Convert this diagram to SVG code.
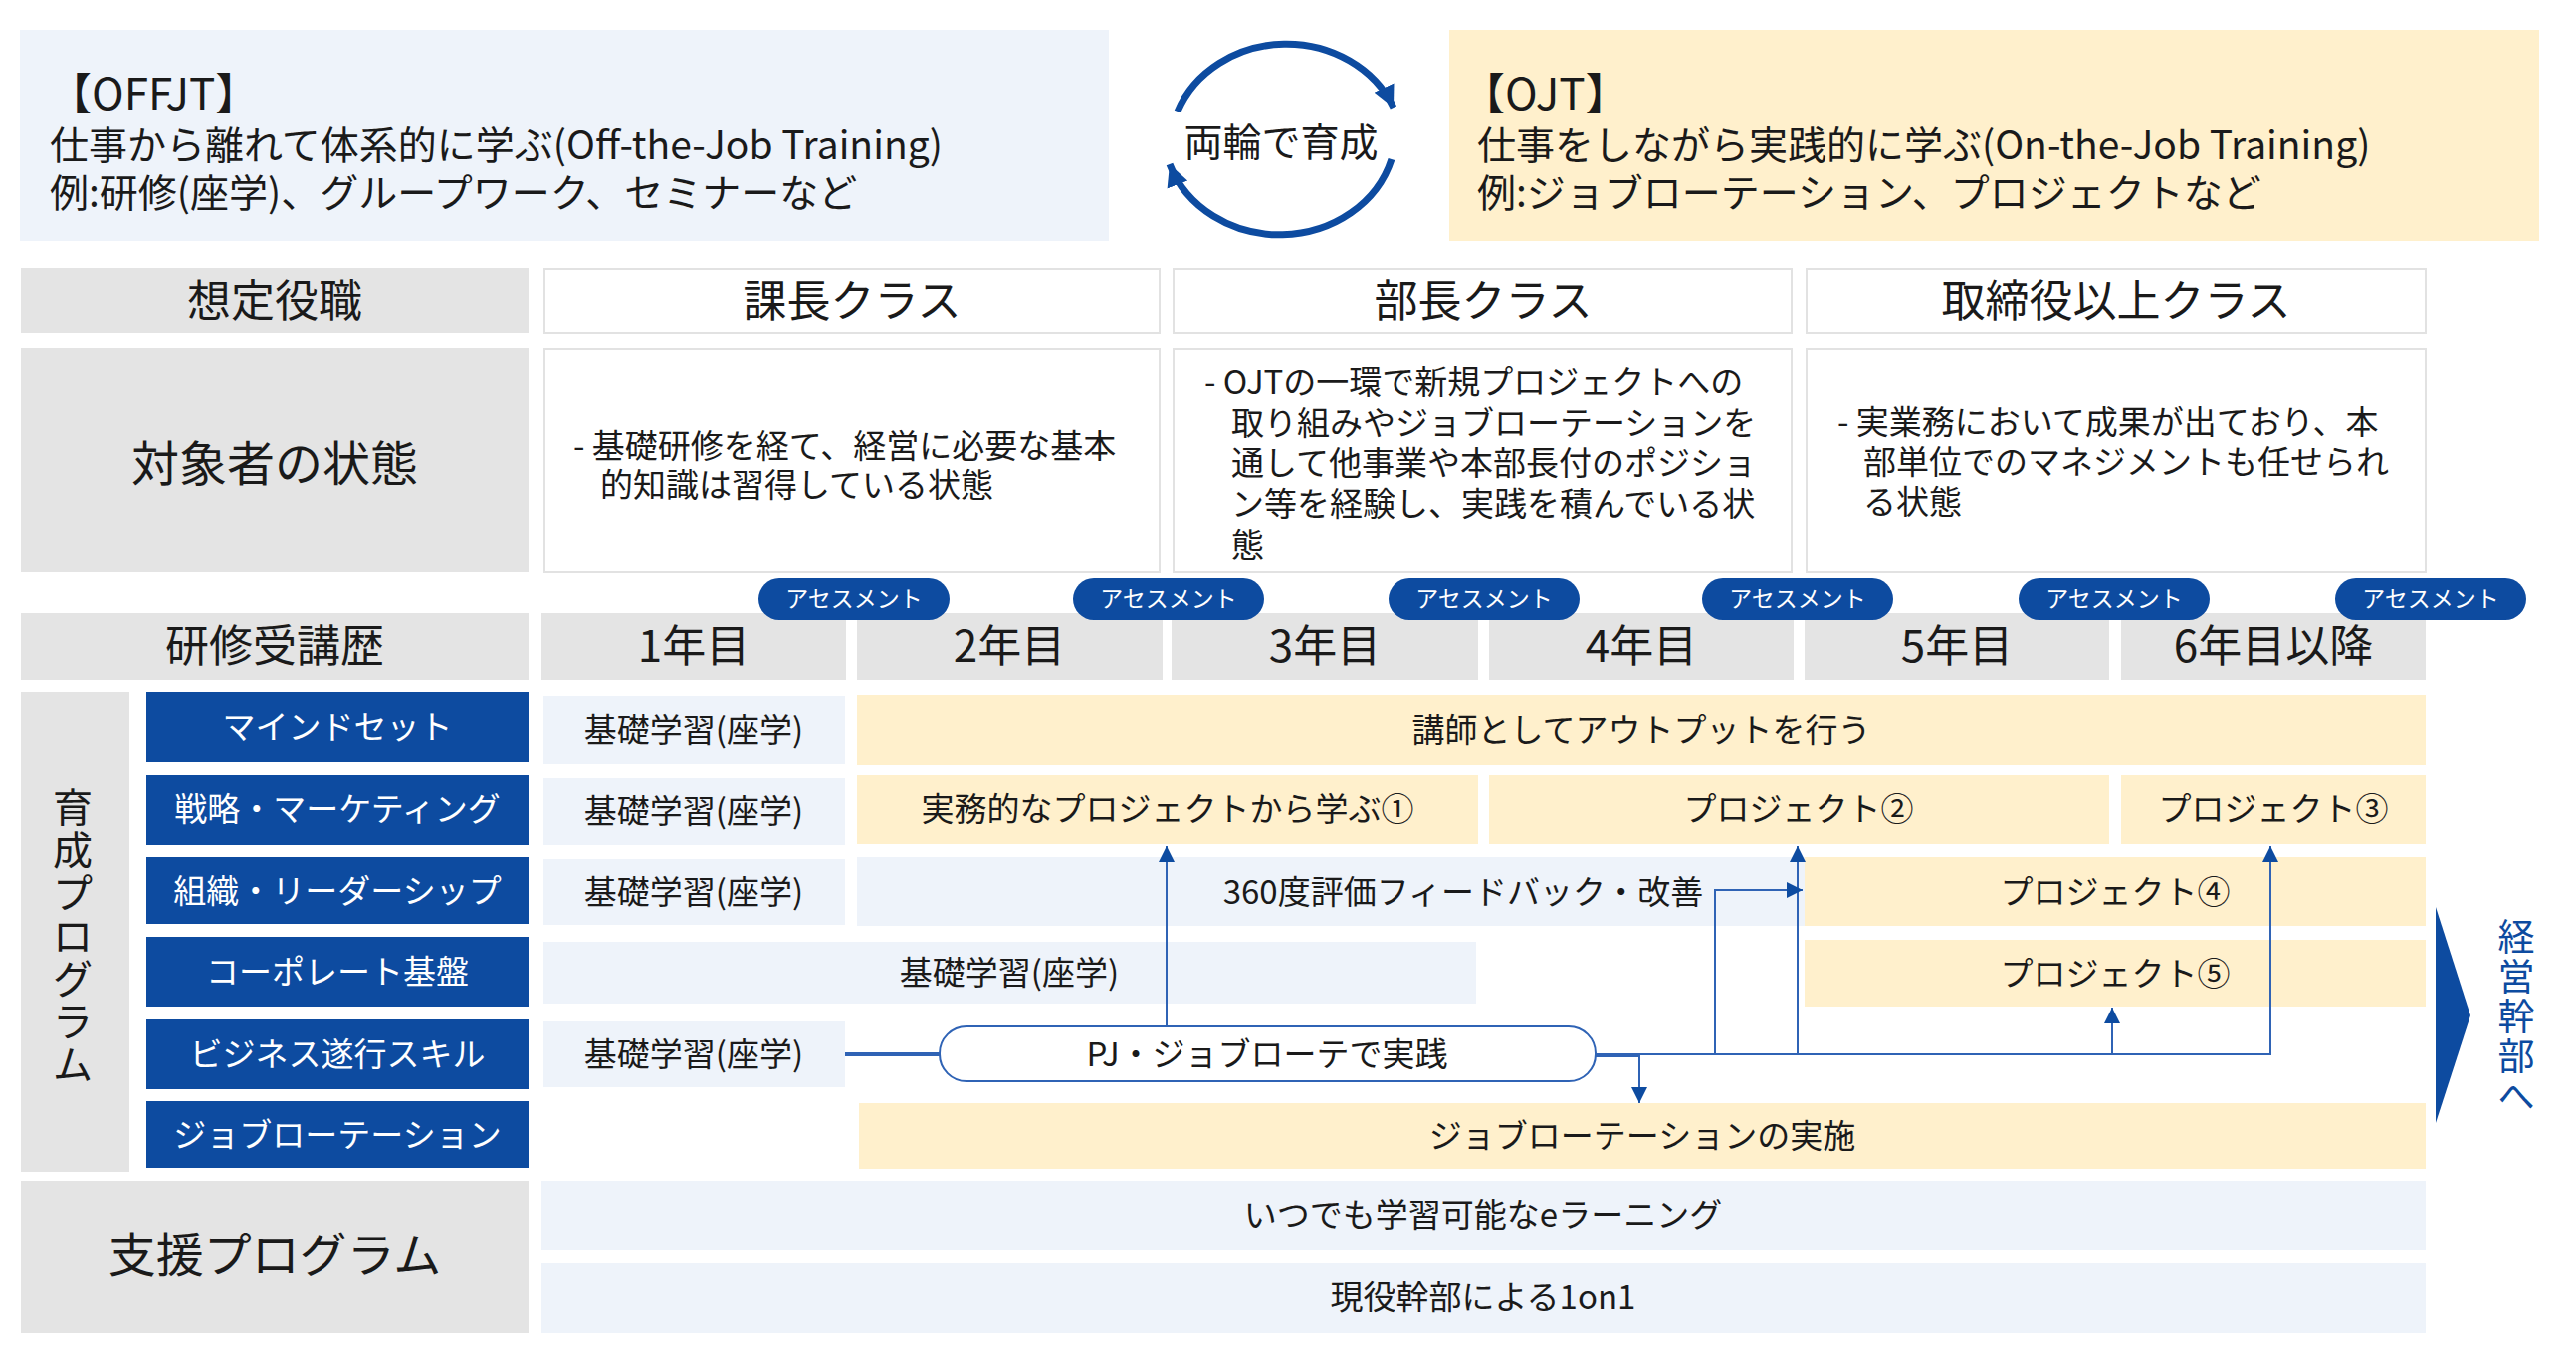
<svg xmlns="http://www.w3.org/2000/svg" width="2588" height="1356" viewBox="0 0 2588 1356">
<defs>
<style>
text{font-family:"Noto Sans CJK JP","Noto Sans",sans-serif;fill:#1a1a1a}
.g{fill:#E4E4E4}.lb{fill:#EEF3FA}.y{fill:#FFF0CC}.w{fill:#fff;stroke:#e2e2e2;stroke-width:2}
.bl{fill:#0D4BA0}
.c{text-anchor:middle}
.t46{font-size:44px}.t34{font-size:33px}.t40{font-size:39px}
.wt{fill:#fff;font-size:33px;text-anchor:middle}
.pt{fill:#fff;font-size:23px;text-anchor:middle}
.ln{fill:none;stroke:#2F63B5;stroke-width:2}
.v1{font-size:40px;text-anchor:middle}
.v2{font-size:37px;text-anchor:middle;fill:#0D4BA0}
</style>
<marker id="ah" viewBox="0 0 10 10" refX="10" refY="5" markerWidth="22" markerHeight="16" markerUnits="userSpaceOnUse" orient="auto"><path d="M0,0L10,5L0,10z" fill="#0D4BA0"/></marker>
<marker id="ah2" viewBox="0 0 10 10" refX="10" refY="5" markerWidth="22" markerHeight="24" markerUnits="userSpaceOnUse" orient="auto"><path d="M0,0L10,5L0,10z" fill="#0D4BA0"/></marker>
</defs>
<rect width="2588" height="1356" fill="#fff"/>

<g id="offjt"><rect x="20" y="30" width="1094" height="212" class="lb"/>
<text x="48" y="110" style="font-size:44px">【OFFJT】</text>
<text x="50" y="160" class="t40">仕事から離れて体系的に学ぶ(Off-the-Job Training)</text>
<text x="50" y="208" class="t40">例:研修(座学)、グループワーク、セミナーなど</text></g>

<g id="cycle"><path d="M1183,112 A117,105 0 0 1 1400,108" class="ln" style="stroke:#0D4BA0;stroke-width:7" marker-end="url(#ah2)"/>
<path d="M1398,160 A117,105 0 0 1 1175,165" class="ln" style="stroke:#0D4BA0;stroke-width:7" marker-end="url(#ah2)"/>
<text x="1287" y="157" class="c t40">両輪で育成</text></g>

<g id="ojt"><rect x="1456" y="30" width="1095" height="212" class="y"/>
<text x="1468" y="110" style="font-size:44px">【OJT】</text>
<text x="1484" y="160" class="t40">仕事をしながら実践的に学ぶ(On-the-Job Training)</text>
<text x="1484" y="208" class="t40">例:ジョブローテーション、プロジェクトなど</text></g>

<g id="roles"><rect x="21" y="269" width="510" height="65" class="g"/><text x="276" y="318" class="c t46">想定役職</text>
<rect x="547" y="270" width="618" height="64" class="w"/><text x="856" y="318" class="c t46">課長クラス</text>
<rect x="1179" y="270" width="621" height="64" class="w"/><text x="1490" y="318" class="c t46">部長クラス</text>
<rect x="1815" y="270" width="622" height="64" class="w"/><text x="2126" y="318" class="c t46">取締役以上クラス</text></g>

<g id="state"><rect x="21" y="350" width="510" height="225" class="g"/><text x="276" y="483" class="c" style="font-size:48px">対象者の状態</text>
<rect x="547" y="351" width="618" height="224" class="w"/>
<text x="576" y="460" class="t34">- 基礎研修を経て、経営に必要な基本</text><text x="603" y="499" class="t34">的知識は習得している状態</text>
<rect x="1179" y="351" width="621" height="224" class="w"/>
<text x="1210" y="396" class="t34">- OJTの一環で新規プロジェクトへの</text>
<text x="1237" y="437" class="t34">取り組みやジョブローテーションを</text>
<text x="1237" y="477" class="t34">通して他事業や本部長付のポジショ</text>
<text x="1237" y="518" class="t34">ン等を経験し、実践を積んでいる状</text>
<text x="1237" y="559" class="t34">態</text>
<rect x="1815" y="351" width="622" height="224" class="w"/>
<text x="1846" y="436" class="t34">- 実業務において成果が出ており、本</text>
<text x="1872" y="476" class="t34">部単位でのマネジメントも任せられ</text>
<text x="1872" y="516" class="t34">る状態</text></g>

<g id="years"><rect x="21" y="616" width="510" height="67" class="g"/><text x="276" y="665" class="c t46">研修受講歴</text>
<rect x="544" y="616" width="306" height="67" class="g"/><text x="697" y="665" class="c t46">1年目</text>
<rect x="861" y="616" width="307" height="67" class="g"/><text x="1014" y="665" class="c t46">2年目</text>
<rect x="1177" y="616" width="308" height="67" class="g"/><text x="1331" y="665" class="c t46">3年目</text>
<rect x="1496" y="616" width="306" height="67" class="g"/><text x="1649" y="665" class="c t46">4年目</text>
<rect x="1813" y="616" width="306" height="67" class="g"/><text x="1966" y="665" class="c t46">5年目</text>
<rect x="2131" y="616" width="306" height="67" class="g"/><text x="2284" y="665" class="c t46">6年目以降</text></g>

<g id="assess">
<rect x="762" y="581" width="192" height="42" rx="21" class="bl"/><text x="858" y="610" class="pt">アセスメント</text>
<rect x="1078" y="581" width="192" height="42" rx="21" class="bl"/><text x="1174" y="610" class="pt">アセスメント</text>
<rect x="1395" y="581" width="192" height="42" rx="21" class="bl"/><text x="1491" y="610" class="pt">アセスメント</text>
<rect x="1710" y="581" width="192" height="42" rx="21" class="bl"/><text x="1806" y="610" class="pt">アセスメント</text>
<rect x="2028" y="581" width="192" height="42" rx="21" class="bl"/><text x="2124" y="610" class="pt">アセスメント</text>
<rect x="2346" y="581" width="192" height="42" rx="21" class="bl"/><text x="2442" y="610" class="pt">アセスメント</text></g>

<g id="ikusei"><rect x="21" y="695" width="109" height="482" class="g"/>
<text x="73" y="826" class="v1">育</text><text x="73" y="869" class="v1">成</text><text x="73" y="912" class="v1">プ</text><text x="73" y="955" class="v1">ロ</text><text x="73" y="998" class="v1">グ</text><text x="73" y="1041" class="v1">ラ</text><text x="73" y="1084" class="v1">ム</text></g>

<g id="cats">
<rect x="147" y="695" width="384" height="70" class="bl"/><text x="339" y="742" class="wt">マインドセット</text>
<rect x="147" y="778" width="384" height="71" class="bl"/><text x="339" y="825" class="wt">戦略・マーケティング</text>
<rect x="147" y="861" width="384" height="67" class="bl"/><text x="339" y="907" class="wt">組織・リーダーシップ</text>
<rect x="147" y="941" width="384" height="70" class="bl"/><text x="339" y="988" class="wt">コーポレート基盤</text>
<rect x="147" y="1024" width="384" height="70" class="bl"/><text x="339" y="1071" class="wt">ビジネス遂行スキル</text>
<rect x="147" y="1106" width="384" height="67" class="bl"/><text x="339" y="1152" class="wt">ジョブローテーション</text></g>

<g id="base">
<rect x="546" y="699" width="303" height="68" class="lb"/><text x="697" y="745" class="c t34">基礎学習(座学)</text>
<rect x="546" y="781" width="303" height="68" class="lb"/><text x="697" y="827" class="c t34">基礎学習(座学)</text>
<rect x="546" y="863" width="303" height="66" class="lb"/><text x="697" y="908" class="c t34">基礎学習(座学)</text>
<rect x="546" y="946" width="937" height="62" class="lb"/><text x="1014" y="989" class="c t34">基礎学習(座学)</text>
<rect x="546" y="1026" width="303" height="66" class="lb"/><text x="697" y="1071" class="c t34">基礎学習(座学)</text></g>

<g id="ojtbars">
<rect x="861" y="698" width="1576" height="70" class="y"/><text x="1649" y="745" class="c t34">講師としてアウトプットを行う</text>
<rect x="861" y="778" width="624" height="70" class="y"/><text x="1173" y="825" class="c t34">実務的なプロジェクトから学ぶ①</text>
<rect x="1496" y="778" width="623" height="70" class="y"/><text x="1807" y="825" class="c t34">プロジェクト②</text>
<rect x="2131" y="778" width="306" height="70" class="y"/><text x="2284" y="825" class="c t34">プロジェクト③</text>
<rect x="861" y="861" width="952" height="69" class="lb"/><text x="1470" y="908" class="c t34">360度評価フィードバック・改善</text>
<rect x="1813" y="861" width="624" height="69" class="y"/><text x="2125" y="908" class="c t34">プロジェクト④</text>
<rect x="1813" y="944" width="624" height="67" class="y"/><text x="2125" y="990" class="c t34">プロジェクト⑤</text>
<rect x="863" y="1108" width="1574" height="66" class="y"/><text x="1650" y="1153" class="c t34">ジョブローテーションの実施</text></g>

<g id="pj"><rect x="944" y="1031" width="659" height="55" rx="27" fill="#fff" stroke="#2F63B5" stroke-width="2"/>
<text x="1273" y="1071" class="c t34">PJ・ジョブローテで実践</text></g>

<g id="connectors">
<line x1="849" y1="1059" x2="944" y2="1059" stroke="#2F63B5" stroke-width="4"/>
<polyline points="1603,1059 2281,1059 2281,850" class="ln" marker-end="url(#ah)"/>
<line x1="1172" y1="1031" x2="1172" y2="850" class="ln" marker-end="url(#ah)"/>
<line x1="1806" y1="1059" x2="1806" y2="850" class="ln" marker-end="url(#ah)"/>
<polyline points="1723,1059 1723,894 1811,894" class="ln" marker-end="url(#ah)"/>
<line x1="2122" y1="1059" x2="2122" y2="1012" class="ln" marker-end="url(#ah)"/>
<polyline points="1603,1061 1647,1061 1647,1108" class="ln" marker-end="url(#ah)"/>
</g>

<g id="support"><rect x="21" y="1186" width="510" height="153" class="g"/><text x="276" y="1278" class="c" style="font-size:48px">支援プログラム</text>
<rect x="544" y="1186" width="1893" height="70" class="lb"/><text x="1490" y="1232" class="c t34">いつでも学習可能なeラーニング</text>
<rect x="544" y="1269" width="1893" height="70" class="lb"/><text x="1490" y="1315" class="c t34">現役幹部による1on1</text></g>

<g id="goal"><path d="M2447,911 L2482,1020 L2447,1128 Z" class="bl"/>
<text x="2528" y="955" class="v2">経</text><text x="2528" y="995" class="v2">営</text><text x="2528" y="1035" class="v2">幹</text><text x="2528" y="1075" class="v2">部</text><text x="2528" y="1115" class="v2">へ</text></g>
</svg>
